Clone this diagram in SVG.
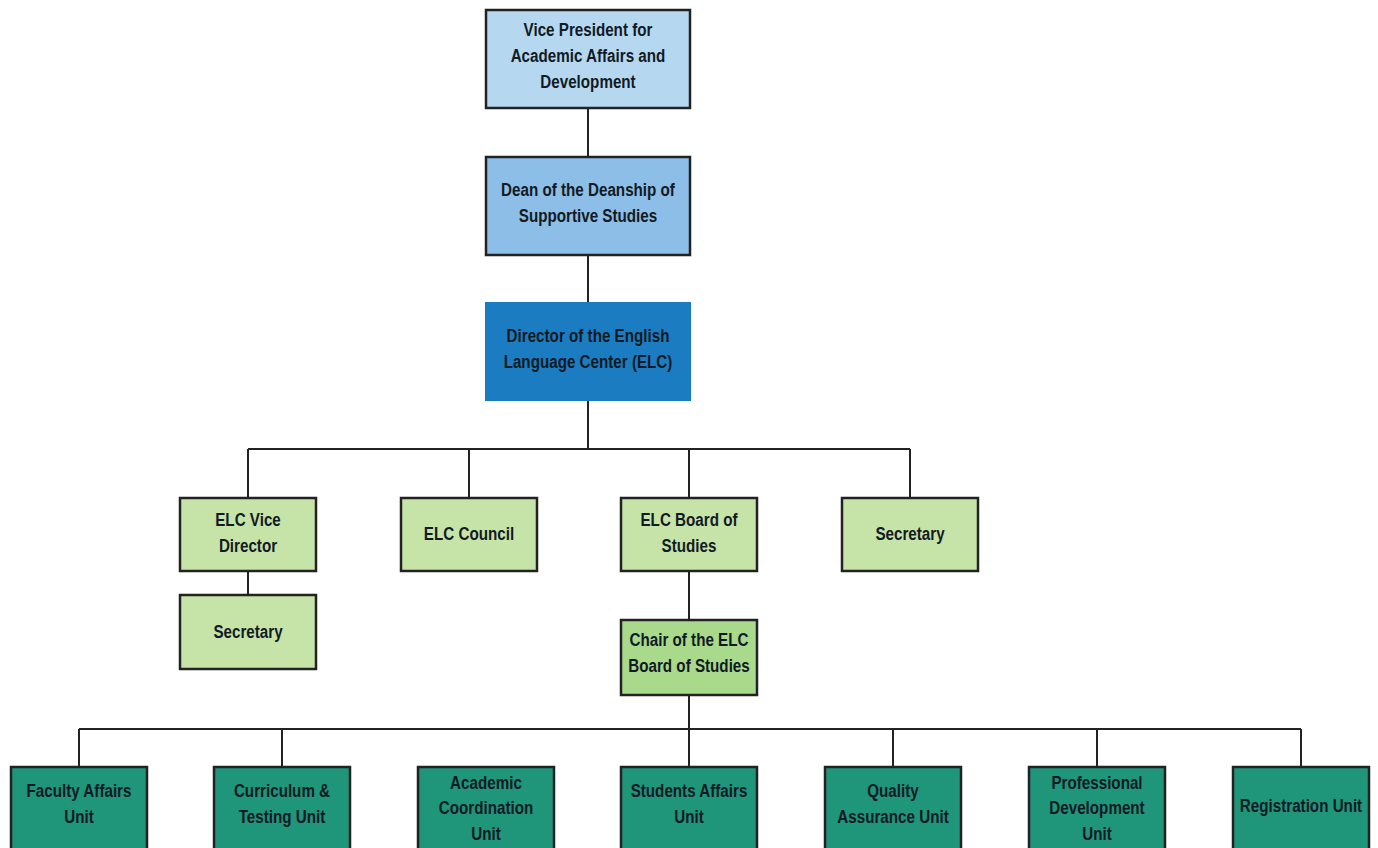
<svg xmlns="http://www.w3.org/2000/svg" width="1378" height="848" viewBox="0 0 1378 848">
<style>
.box{stroke:#222;stroke-width:2.5}
.t{font-family:"Liberation Sans",Arial,sans-serif;font-weight:bold;font-size:19px;fill:#121a24;text-anchor:middle}
.c{stroke:#222;stroke-width:2;fill:none}
</style>
<rect width="1378" height="848" fill="#fff"/>
<g id="connectors">
<path class="c" d="M588 108V157M588 255V302M588 401V449M248 449H910M248 449V498M469 449V498M689 449V498M910 449V498M248 571V595M689 571V620M689 695V767M79 729H1301M79 729V767M282 729V767M893 729V767M1097 729V767M1301 729V767"/>
</g>
<g id="vp"><rect class="box" x="486" y="10" width="204" height="98" fill="#b5d8f0"/>
<g class="t" transform="translate(588 0) scale(0.8 1)"><text x="0" y="36">Vice President for</text><text x="0" y="62">Academic Affairs and</text><text x="0" y="88">Development</text></g></g>
<g id="dean"><rect class="box" x="486" y="157" width="204" height="98" fill="#8cbee7"/>
<g class="t" transform="translate(588 0) scale(0.8 1)"><text x="0" y="196">Dean of the Deanship of</text><text x="0" y="222">Supportive Studies</text></g></g>
<g id="director"><rect x="485" y="302" width="206" height="99" fill="#1b7cc2"/>
<g class="t" transform="translate(588 0) scale(0.8 1)"><text x="0" y="342">Director of the English</text><text x="0" y="368">Language Center (ELC)</text></g></g>
<g id="vice"><rect class="box" x="180" y="498" width="136" height="73" fill="#c6e4a8"/>
<g class="t" transform="translate(248 0) scale(0.8 1)"><text x="0" y="526">ELC Vice</text><text x="0" y="552">Director</text></g></g>
<g id="council"><rect class="box" x="401" y="498" width="136" height="73" fill="#c6e4a8"/>
<g class="t" transform="translate(469 0) scale(0.8 1)"><text x="0" y="540">ELC Council</text></g></g>
<g id="board"><rect class="box" x="621" y="498" width="136" height="73" fill="#c6e4a8"/>
<g class="t" transform="translate(689 0) scale(0.8 1)"><text x="0" y="526">ELC Board of</text><text x="0" y="552">Studies</text></g></g>
<g id="secretary1"><rect class="box" x="842" y="498" width="136" height="73" fill="#c6e4a8"/>
<g class="t" transform="translate(910 0) scale(0.8 1)"><text x="0" y="540">Secretary</text></g></g>
<g id="secretary2"><rect class="box" x="180" y="595" width="136" height="74" fill="#c6e4a8"/>
<g class="t" transform="translate(248 0) scale(0.8 1)"><text x="0" y="638">Secretary</text></g></g>
<g id="chair"><rect class="box" x="621" y="620" width="136" height="75" fill="#a9d98b"/>
<g class="t" transform="translate(689 0) scale(0.8 1)"><text x="0" y="646">Chair of the ELC</text><text x="0" y="672">Board of Studies</text></g></g>
<g id="faculty"><rect class="box" x="11" y="767" width="136" height="100" fill="#1f957a"/>
<g class="t" transform="translate(79 0) scale(0.8 1)"><text x="0" y="797">Faculty Affairs</text><text x="0" y="823">Unit</text></g></g>
<g id="curriculum"><rect class="box" x="214" y="767" width="136" height="100" fill="#1f957a"/>
<g class="t" transform="translate(282 0) scale(0.8 1)"><text x="0" y="797">Curriculum &amp;</text><text x="0" y="823">Testing Unit</text></g></g>
<g id="academic"><rect class="box" x="418" y="767" width="136" height="100" fill="#1f957a"/>
<g class="t" transform="translate(486 0) scale(0.8 1)"><text x="0" y="789">Academic</text><text x="0" y="814">Coordination</text><text x="0" y="840">Unit</text></g></g>
<g id="students"><rect class="box" x="621" y="767" width="136" height="100" fill="#1f957a"/>
<g class="t" transform="translate(689 0) scale(0.8 1)"><text x="0" y="797">Students Affairs</text><text x="0" y="823">Unit</text></g></g>
<g id="quality"><rect class="box" x="825" y="767" width="136" height="100" fill="#1f957a"/>
<g class="t" transform="translate(893 0) scale(0.8 1)"><text x="0" y="797">Quality</text><text x="0" y="823">Assurance Unit</text></g></g>
<g id="professional"><rect class="box" x="1029" y="767" width="136" height="100" fill="#1f957a"/>
<g class="t" transform="translate(1097 0) scale(0.8 1)"><text x="0" y="789">Professional</text><text x="0" y="814">Development</text><text x="0" y="840">Unit</text></g></g>
<g id="registration"><rect class="box" x="1233" y="767" width="136" height="100" fill="#1f957a"/>
<g class="t" transform="translate(1301 0) scale(0.8 1)"><text x="0" y="812">Registration Unit</text></g></g>
</svg>
